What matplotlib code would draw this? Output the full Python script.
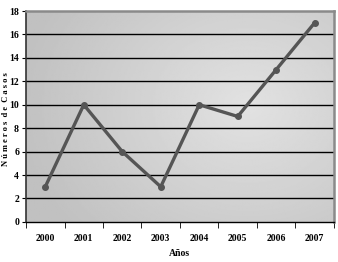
import matplotlib
matplotlib.use("Agg")
import matplotlib.pyplot as plt
import numpy as np

years = ["2000", "2001", "2002", "2003", "2004", "2005", "2006", "2007"]
cases = [3, 10, 6, 3, 10, 9, 13, 17]
y_ticks = [0, 2, 4, 6, 8, 10, 12, 14, 16, 18]

plt.rcParams["font.family"] = ["Liberation Serif", "DejaVu Serif"]
plt.rcParams["font.weight"] = "bold"

fig = plt.figure(figsize=(3.38, 2.62), dpi=100)
ax = fig.add_axes([0.077, 0.153, 0.911, 0.805])

# gray gradient background, lighter towards the right-middle
gx, gy = np.meshgrid(np.linspace(0, 1, 200), np.linspace(0, 1, 200))
dist = np.sqrt(((gx - 0.72) / 1.0) ** 2 + ((gy - 0.55) / 1.2) ** 2)
shade = 0.885 - 0.13 * np.clip(dist / 0.75, 0, 1)
ax.imshow(shade, cmap="gray", vmin=0, vmax=1, extent=[-0.5, 7.5, 0, 18],
          origin="lower", aspect="auto", zorder=0)

x = np.arange(len(years))
for v in y_ticks[1:-1]:
    ax.axhline(v, color="black", lw=1.0, zorder=1)

ax.plot(x, cases, color="#555555", lw=2.4, marker="o", markersize=4,
        markerfacecolor="#555555", markeredgecolor="#555555", zorder=3)

ax.set_xlim(-0.5, 7.5)
ax.set_ylim(0, 18)
ax.set_yticks(y_ticks)
ax.set_yticklabels([str(v) for v in y_ticks], fontsize=7)
ax.set_xticks(x)
ax.set_xticklabels(years, fontsize=7)
ax.set_xticks(np.arange(-0.5, 8, 1), minor=True)
ax.tick_params(axis="x", which="major", length=0, pad=9)
ax.tick_params(axis="x", which="minor", length=4, direction="out")
ax.tick_params(axis="y", length=3, direction="out", pad=2)

for side in ["top", "right"]:
    ax.spines[side].set_color("#8a8a8a")
    ax.spines[side].set_linewidth(1.8)
ax.spines["left"].set_color("#333333")
ax.spines["left"].set_linewidth(1.2)
ax.spines["bottom"].set_color("black")
ax.spines["bottom"].set_linewidth(1.0)

fig.text(6 / 338, 1 - 119 / 262, "N ú m e r o s  d e  C a s o s", fontsize=6,
         rotation=90, ha="center", va="center")
fig.text(179 / 338, 1 - 253 / 262, "Años", fontsize=7, ha="center", va="center")

fig.savefig("out.png", dpi=100)
